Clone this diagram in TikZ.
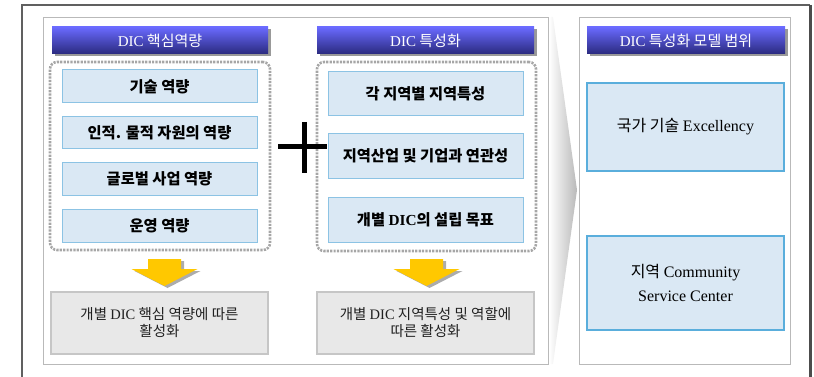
\documentclass[tikz,border=0pt]{standalone}
\usepackage{fontspec}
\setmainfont{Liberation Serif}
\newfontfamily\kr{Noto Sans CJK KR}
\usetikzlibrary{shadows}
\definecolor{hdtop}{HTML}{6A6AFF}
\definecolor{hdbot}{HTML}{2A2A7E}
\definecolor{itfill}{HTML}{DAE8F4}
\definecolor{itline}{HTML}{8CC3E4}
\definecolor{bigline}{HTML}{5AAEDC}
\definecolor{yel}{HTML}{FFC800}
\newcommand{\dic}{\textrm{DIC}}
\tikzset{
  hd/.style={top color=hdtop, bottom color=hdbot, minimum height=27pt, inner sep=0pt,
    text=white, font=\fontsize{15}{17}\selectfont\kr,
    drop shadow={shadow xshift=2.5pt, shadow yshift=-2.5pt, fill=gray!80, opacity=1}},
  grp/.style={draw=gray!70, line width=2.6pt, dash pattern=on 2.2pt off 1.2pt, rounded corners=7pt, minimum width=220pt},
  item/.style={draw=itline, fill=itfill, line width=1pt, minimum width=195pt, inner sep=0pt,
    font=\fontsize{15.3}{17}\selectfont\kr\bfseries, align=center},
  big/.style={draw=bigline, fill=itfill, line width=1.8pt, minimum width=197pt, inner sep=0pt,
    font=\fontsize{16}{24}\selectfont\kr, align=center},
  res/.style={draw=gray!45, fill=gray!18, line width=1.6pt, minimum width=217pt, minimum height=62pt,
    inner sep=0pt, align=center, text=gray!25!black, font=\fontsize{14.5}{17}\selectfont\kr},
  pan/.style={draw=gray!55, line width=0.9pt},
  dn/.pic={
    \fill[gray!65] (-13.5,2) -- (19.5,2) -- (19.5,12) -- (36,12) -- (3,29) -- (-30,12) -- (-13.5,12) -- cycle;
    \fill[yel] (-16.5,0) -- (16.5,0) -- (16.5,10) -- (33,10) -- (0,27) -- (-33,10) -- (-16.5,10) -- cycle;
  }
}

\begin{document}
\begin{tikzpicture}[x=1pt, y=-1pt]
\useasboundingbox (0,0) rectangle (814,377);
% frame and panels
\draw[gray!75!black, line width=1.5pt] (22,377) -- (22,5) -- (810,5);
\draw[gray!60!black, line width=3pt] (810,5) -- (810,377);
\draw[pan] (43,17) rectangle (548,364);
\draw[pan] (579,17) rectangle (790,364);
\shade[left color=white, right color=gray!55] (549,17) -- (553,17) -- (577,190) -- (553,364) -- (549,364) -- cycle;

% headers
\node[hd, minimum width=216pt] (h1) at (160,40.5) {\dic{} 핵심역량};
\node[hd, minimum width=217pt] (h2) at (425.5,40.5) {\dic{} 특성화};
\node[hd, minimum width=198pt] (h3) at (686,40.5) {\dic{} 특성화 모델 범위};

% groups
\node[grp, minimum height=188pt] (d1) at (160,156) {};
\node[grp, minimum width=219pt, minimum height=189pt] (d2) at (426.5,156.5) {};

\node[item, minimum height=33pt] (a1) at (159.5,86.5) {기술 역량};
\node[item, minimum height=32pt] (a2) at (159.5,133) {인적. 물적 자원의 역량};
\node[item, minimum height=32pt] (a3) at (159.5,179) {글로벌 사업 역량};
\node[item, minimum height=33pt] (a4) at (159.5,225.5) {운영 역량};

\node[item, minimum height=44pt] (b1) at (425.5,94) {각 지역별 지역특성};
\node[item, minimum height=44pt] (b2) at (425.5,156) {지역산업 및 기업과 연관성};
\node[item, minimum height=45pt] (b3) at (425.5,219.5) {개별 \dic{}의 설립 목표};

\node[big, minimum height=88pt] (c1) at (685.5,127) {국가 기술 \textrm{Excellency}};
\node[big, minimum height=94pt] (c2) at (685.5,283) {지역 \textrm{Community}\\\textrm{Service Center}};

% plus
\draw[line width=5pt] (278,147) -- (327,147);
\draw[line width=5pt] (304,122) -- (304,173);

% results
\pic at (164.5,259) {dn};
\pic at (426.5,259) {dn};
\node[res] (g1) at (159.5,323) {개별 \dic{} 핵심 역량에 따른\\활성화};
\node[res] (g2) at (425.5,323) {개별 \dic{} 지역특성 및 역할에\\따른 활성화};
\end{tikzpicture}
\end{document}
